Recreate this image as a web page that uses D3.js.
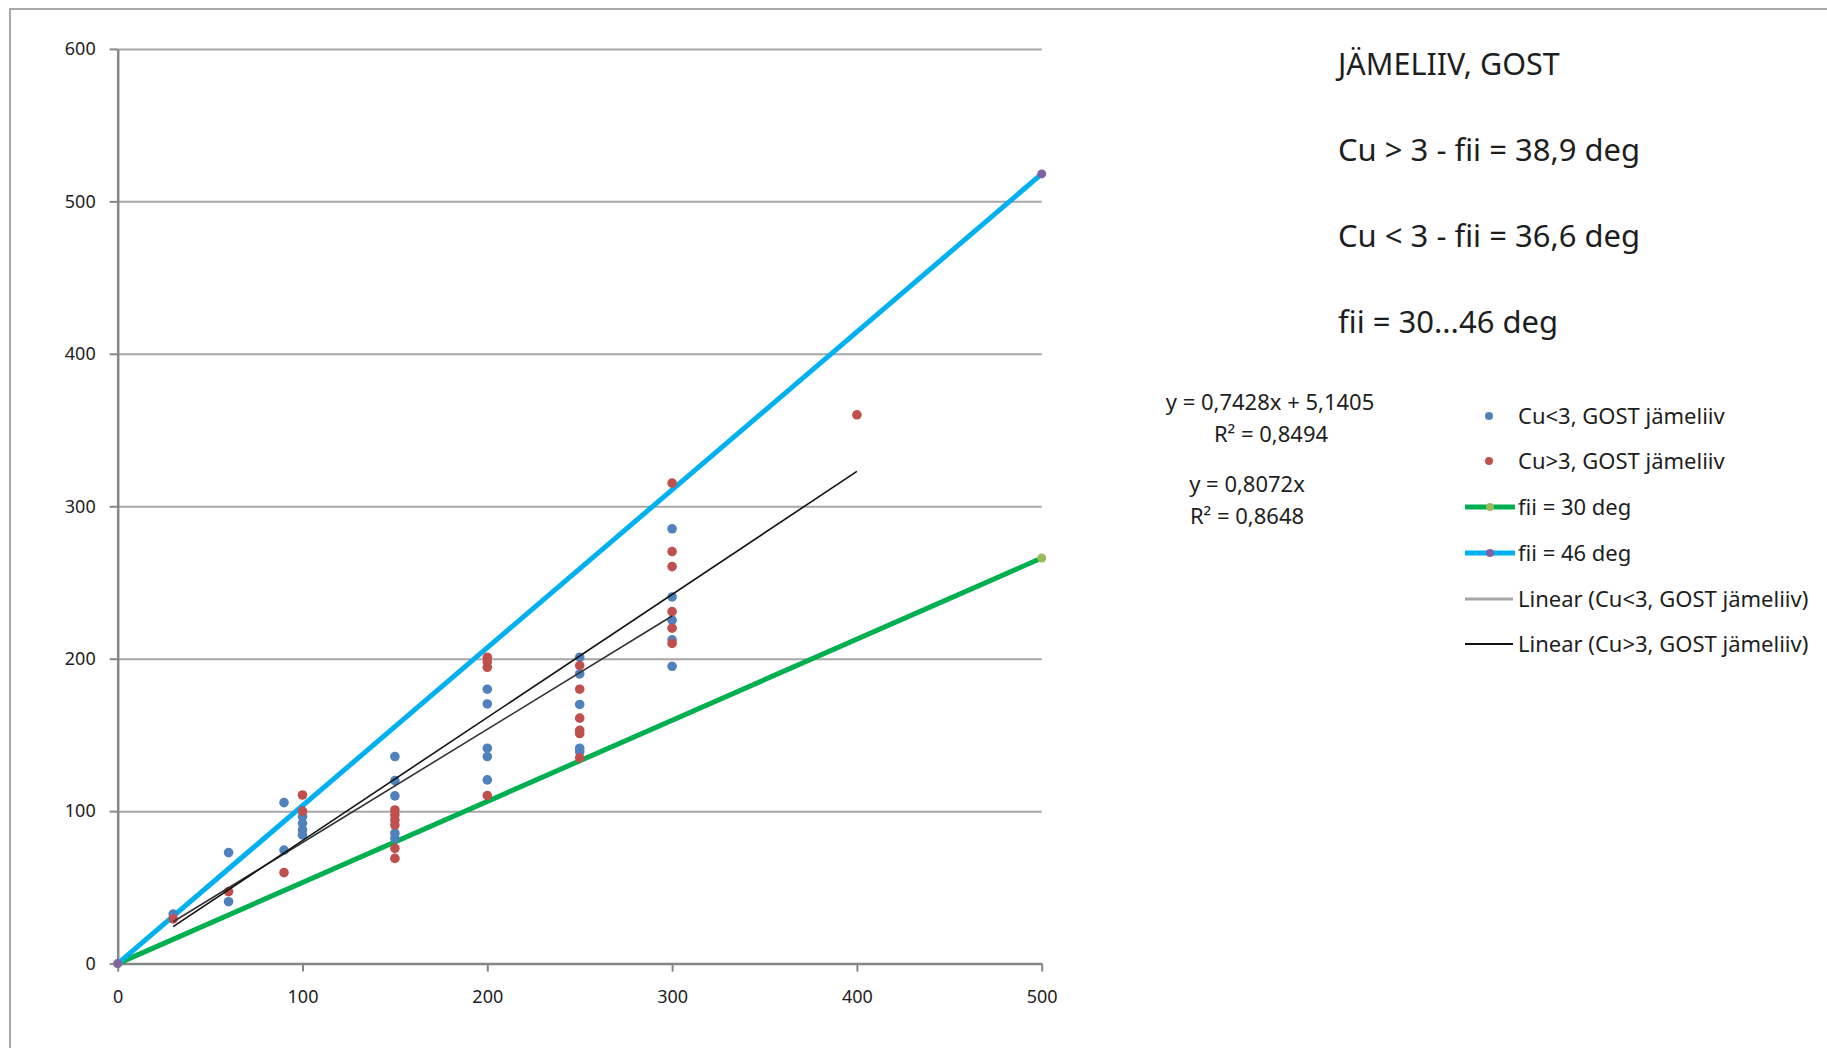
<!DOCTYPE html>
<html>
<head>
<meta charset="utf-8">
<script src="https://cdn.jsdelivr.net/npm/d3@7"></script>
<style>
  body { margin: 0; background: #fff; }
  text { font-family: "Noto Sans", "Open Sans", sans-serif; fill: #1e1e1e; }
</style>
</head>
<body>
<svg id="chart" width="1827" height="1048"></svg>
<script>
// data
let cuLess3 = [ // Cu<3, GOST jämeliiv
    [30,32.5],[60,72.8],[60,40.6],[90,105.6],[90,74.5],
    [100,96.4],[100,92],[100,87.7],[100,84.4],
    [150,135.8],[150,120],[150,110],[150,85.5],[150,82.2],
    [200,180],[200,170.3],[200,141.3],[200,135.8],[200,120.5],
    [250,201],[250,190],[250,170],[250,141.3],[250,139],
    [300,285.2],[300,240.5],[300,225.3],[300,212.4],[300,195]
];
let cuMore3 = [ // Cu>3, GOST jämeliiv
    [30,29.3],[60,47.2],[90,59.7],[100,110.6],[100,100],
    [150,100.8],[150,97.5],[150,94.2],[150,90.9],[150,75.6],[150,69],
    [200,201],[200,198],[200,194.4],[200,110.2],
    [250,195.5],[250,180],[250,161],[250,153],[250,150.9],[250,135],
    [300,315.2],[300,270.3],[300,260.4],[300,230.9],[300,220],[300,210],
    [400,360]
];
let fii30 = [[0,0],[500,266]];
let fii46 = [[0,0],[500,518]];
// trendlines as printed on the chart
let trendLess3 = {slope: 0.7428, intercept: 5.1405, from: 30, to: 300};
let trendMore3 = {slope: 0.8072, intercept: 0, from: 30, to: 400};

let xTicks = [0,100,200,300,400,500];
let yTicks = [0,100,200,300,400,500,600];

let infoLines = ["JÄMELIIV, GOST", "Cu > 3 - fii = 38,9 deg", "Cu < 3 - fii = 36,6 deg", "fii = 30...46 deg"];
let eqLines = ["y = 0,7428x + 5,1405", "R² = 0,8494", "y = 0,8072x", "R² = 0,8648"];
let legendNames = ["Cu<3, GOST jämeliiv", "Cu>3, GOST jämeliiv", "fii = 30 deg", "fii = 46 deg",
                   "Linear (Cu<3, GOST jämeliiv)", "Linear (Cu>3, GOST jämeliiv)"];

let svg = d3.select("#chart");

// outer frame
svg.append("rect")
    .attr("x", 10).attr("y", 9)
    .attr("width", 1900).attr("height", 1100)
    .attr("fill", "none")
    .attr("stroke", "#a9a9a9")
    .attr("stroke-width", 2);

let plotL = 117.7, plotR = 1041.7, plotT = 48.9, plotB = 963.6;

let xScale = d3.scaleLinear().domain([0,500]).range([plotL,plotR]);
let yScale = d3.scaleLinear().domain([0,600]).range([plotB,plotT]);

// horizontal grid
let grid = svg.append("g")
    .attr("transform", "translate(" + plotL + ",0)")
    .call(d3.axisLeft(yScale).tickValues(yTicks.slice(1)).tickSize(-(plotR-plotL)).tickFormat(""));
grid.select(".domain").remove();
grid.selectAll("line").attr("stroke", "#a6a6a6").attr("stroke-width", 2);

// y axis
let yAxis = svg.append("g")
    .attr("transform", "translate(" + plotL + ",0)")
    .call(d3.axisLeft(yScale).tickValues(yTicks).tickSizeInner(8).tickSizeOuter(0).tickPadding(14));
yAxis.select(".domain").attr("stroke", "#868686").attr("stroke-width", 2.5);
yAxis.selectAll("line").attr("stroke", "#868686").attr("stroke-width", 2);
yAxis.selectAll("text").style("font-size", "18px").style("font-family", "'Noto Sans', sans-serif").attr("fill", "#1e1e1e");

// x axis
let xAxis = svg.append("g")
    .attr("transform", "translate(0," + plotB + ")")
    .call(d3.axisBottom(xScale).tickValues(xTicks).tickSizeInner(8).tickSizeOuter(0).tickPadding(19));
xAxis.select(".domain").attr("stroke", "#868686").attr("stroke-width", 2.5);
xAxis.selectAll("line").attr("stroke", "#868686").attr("stroke-width", 2);
xAxis.selectAll("text").style("font-size", "18px").style("font-family", "'Noto Sans', sans-serif").attr("fill", "#1e1e1e");

let line = d3.line().x(d => xScale(d[0])).y(d => yScale(d[1]));

// fii lines
svg.append("path").datum(fii30)
    .attr("d", line).attr("fill", "none")
    .attr("stroke", "#00b050").attr("stroke-width", 5);
svg.append("path").datum(fii46)
    .attr("d", line).attr("fill", "none")
    .attr("stroke", "#00b0f0").attr("stroke-width", 5);

// points
svg.append("g").selectAll("circle")
    .data(cuLess3).enter().append("circle")
    .attr("cx", d => xScale(d[0])).attr("cy", d => yScale(d[1]))
    .attr("r", 4.8).attr("fill", "#4f81bd");
svg.append("g").selectAll("circle")
    .data(cuMore3).enter().append("circle")
    .attr("cx", d => xScale(d[0])).attr("cy", d => yScale(d[1]))
    .attr("r", 4.8).attr("fill", "#c0504d");

// trendlines
function trendPts(t) {
    return [[t.from, t.slope*t.from + t.intercept], [t.to, t.slope*t.to + t.intercept]];
}
svg.append("path").datum(trendPts(trendLess3))
    .attr("d", line).attr("fill", "none")
    .attr("stroke", "#333").attr("stroke-width", 1.6);
svg.append("path").datum(trendPts(trendMore3))
    .attr("d", line).attr("fill", "none")
    .attr("stroke", "#111").attr("stroke-width", 1.6);

// end markers of fii lines
svg.append("g").selectAll("circle")
    .data(fii30).enter().append("circle")
    .attr("cx", d => xScale(d[0])).attr("cy", d => yScale(d[1]))
    .attr("r", 4.5).attr("fill", "#9bbb59");
svg.append("g").selectAll("circle")
    .data(fii46).enter().append("circle")
    .attr("cx", d => xScale(d[0])).attr("cy", d => yScale(d[1]))
    .attr("r", 4.5).attr("fill", "#8064a2");

// info text
svg.append("g").selectAll("text")
    .data(infoLines).enter().append("text")
    .attr("x", 1338)
    .attr("y", (d,i) => 64 + i*86)
    .attr("dy", "0.35em")
    .style("font-size", (d,i) => i == 0 ? "30.5px" : "31px")
    .text(d => d);

// trendline equations
let eqPos = [[1270,402],[1271,434],[1247,484],[1247,516]];
svg.append("g").selectAll("text")
    .data(eqLines).enter().append("text")
    .attr("x", (d,i) => eqPos[i][0])
    .attr("y", (d,i) => eqPos[i][1])
    .attr("dy", "0.35em")
    .attr("text-anchor", "middle")
    .style("font-size", "22px")
    .text(d => d);

// legend
let legY = [416,461,507,553,599,644];
let leg = svg.append("g");
legendNames.forEach(function(name, i) {
    let y = legY[i];
    if (i == 0 || i == 1) {
        leg.append("circle").attr("cx", 1489).attr("cy", y).attr("r", 4)
            .attr("fill", i == 0 ? "#4f81bd" : "#c0504d");
    } else if (i == 2 || i == 3) {
        leg.append("line").attr("x1", 1465).attr("x2", 1515).attr("y1", y).attr("y2", y)
            .attr("stroke", i == 2 ? "#00b050" : "#00b0f0").attr("stroke-width", 5);
        leg.append("circle").attr("cx", 1490).attr("cy", y).attr("r", 4)
            .attr("fill", i == 2 ? "#9bbb59" : "#8064a2");
    } else {
        leg.append("line").attr("x1", 1465).attr("x2", 1513).attr("y1", y).attr("y2", y)
            .attr("stroke", i == 4 ? "#a6a6a6" : "#111").attr("stroke-width", i == 4 ? 3 : 2);
    }
    leg.append("text").attr("x", 1518).attr("y", y).attr("dy", "0.35em")
        .style("font-size", "22px").text(name);
});
</script>
</body>
</html>
